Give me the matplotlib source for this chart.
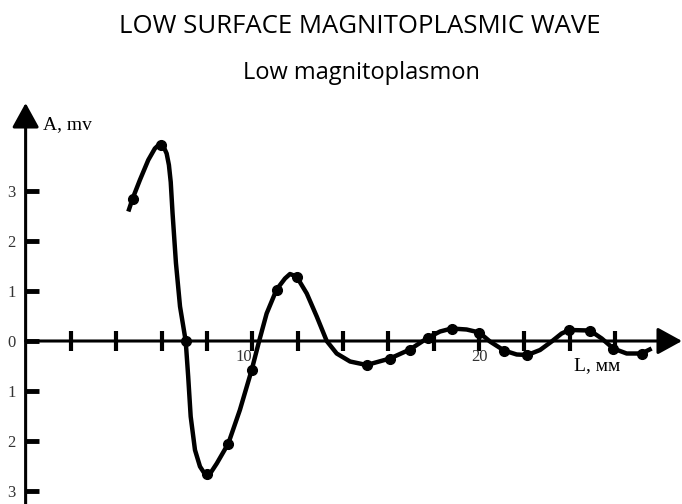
import matplotlib.pyplot as plt

# curve (L in mm, A in mv)
curve_x = [4.53, 4.72, 5.04, 5.41, 5.70, 5.84, 5.96, 6.08, 6.22, 6.32, 6.40, 6.48, 6.63,
           6.81, 7.06, 7.17, 7.28, 7.47, 7.69, 7.86, 8.01, 8.17, 8.43, 8.94, 9.45, 9.97,
           10.30, 10.63, 11.07, 11.44, 11.66, 11.95, 12.40, 12.84, 13.28, 13.72, 14.31,
           15.04, 16.07, 16.95, 17.76, 18.28, 18.79, 19.45, 20.01, 20.48, 21.10, 21.66,
           22.13, 22.69, 23.20, 23.64, 23.98, 24.89, 25.41, 25.92, 26.51, 27.17, 27.61]
curve_y = [2.59, 2.85, 3.22, 3.62, 3.85, 3.91, 3.92, 3.89, 3.75, 3.52, 3.18, 2.56, 1.56,
           0.69, 0.00, -0.71, -1.51, -2.18, -2.51, -2.63, -2.66, -2.63, -2.45, -2.05, -1.38, -0.58,
           0.00, 0.55, 1.03, 1.25, 1.34, 1.29, 0.95, 0.49, 0.00, -0.25, -0.41,
           -0.48, -0.35, -0.17, 0.07, 0.19, 0.25, 0.23, 0.17, -0.01, -0.19, -0.27,
           -0.28, -0.18, -0.01, 0.15, 0.22, 0.21, 0.05, -0.15, -0.25, -0.25, -0.15]

# measured points (dots)
pts_x = [4.72, 5.96, 7.06, 8.01, 8.94, 9.97, 11.07, 11.95, 15.04, 16.07, 16.95,
         17.76, 18.79, 20.01, 21.10, 22.13, 23.98, 24.89, 25.92, 27.17]
pts_y = [2.85, 3.92, 0.00, -2.66, -2.05, -0.58, 1.03, 1.29, -0.48, -0.35, -0.17,
         0.07, 0.25, 0.17, -0.19, -0.28, 0.22, 0.21, -0.15, -0.25]

x_ticks = [2, 4, 6, 8, 10, 12, 14, 16, 18, 20, 22, 24, 26]
x_labels = ['', '', '', '', '10', '', '', '', '', '20', '', '', '']
y_ticks = [-3, -2, -1, 0, 1, 2, 3]
y_labels = ['3', '2', '1', '0', '1', '2', '3']

serif = 'Liberation Serif'

fig = plt.figure(figsize=(6.82, 5.04), dpi=100)
ax = fig.add_axes([0, 0, 1, 404 / 504])
ax.set_xlim(-1.13, 28.95)
ax.set_ylim(-3.26, 4.82)

for s in ax.spines.values():
    s.set_color('none')
ax.spines['left'].set_position(('data', 0))
ax.spines['bottom'].set_position(('data', 0))

# axis lines with arrowheads
arrow = dict(arrowstyle='-|>,head_length=1.0,head_width=0.55', lw=2.2, color='black',
             shrinkA=0, shrinkB=0, mutation_scale=15)
ax.annotate('', xy=(28.95, 0), xytext=(0, 0), arrowprops=arrow, annotation_clip=False)
ax.annotate('', xy=(0, 4.76), xytext=(0, -3.3), arrowprops=arrow, annotation_clip=False)

ax.set_xticks(x_ticks)
ax.set_xticklabels(x_labels, fontfamily=serif, fontsize=12)
ax.get_xticklabels()[4].set_ha('right')
ax.set_yticks(y_ticks)
ax.set_yticklabels(y_labels, fontfamily=serif, fontsize=12)
ax.tick_params(axis='x', direction='inout', length=15, width=3, pad=-2, colors='black',
               labelcolor='#333333')
ax.tick_params(axis='y', direction='in', length=9, width=3.5, pad=7, colors='black',
               labelcolor='#333333')

ax.plot(curve_x, curve_y, color='black', lw=3.2, solid_capstyle='butt',
        solid_joinstyle='round', zorder=3)
ax.plot(pts_x, pts_y, 'o', color='black', ms=7, zorder=4)

ax.text(0.75, 4.32, 'A, mv', fontfamily=serif, fontsize=14, va='center', ha='left')
ax.text(24.2, -0.5, 'L, мм', fontfamily=serif, fontsize=14, va='center', ha='left')

fig.text(0.528, 0.947, 'LOW SURFACE MAGNITOPLASMIC WAVE', fontfamily='Open Sans',
         fontsize=18.5, ha='center', va='center')
fig.text(0.53, 0.855, 'Low magnitoplasmon', fontfamily='Open Sans',
         fontsize=17, ha='center', va='center')

fig.savefig('out.png', dpi=100)
